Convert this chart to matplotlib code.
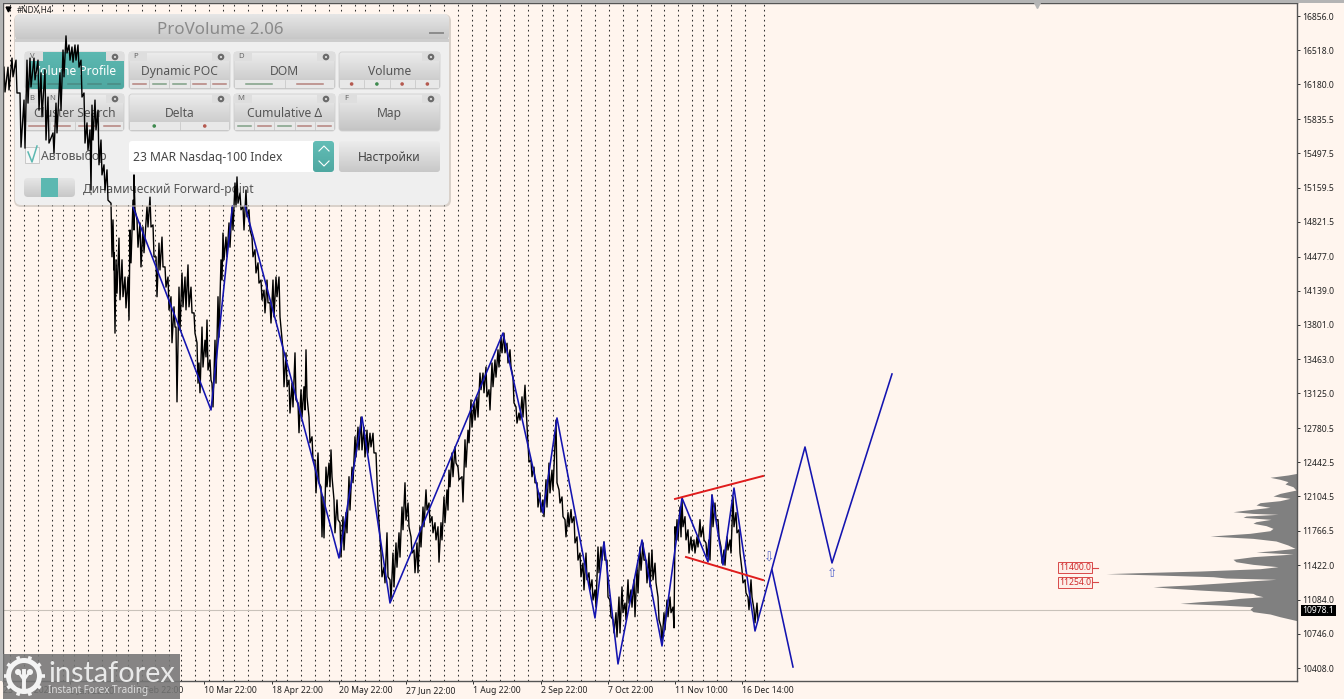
import numpy as np
import matplotlib
matplotlib.use("Agg")
import matplotlib.pyplot as plt
from matplotlib.patches import FancyBboxPatch, Rectangle, Circle, Wedge

W, H = 1344, 699
BG = "#fff5ee"
TEAL = "#5cb8b1"
RED = "#b5817c"
GREEN = "#7f9f85"

# price axis
price_ticks = [16856.5, 16518.0, 16180.0, 15835.5, 15497.5, 15159.5, 14821.5, 14477.0, 14139.0, 13801.0,
               13463.0, 13125.0, 12780.5, 12442.5, 12104.5, 11766.5, 11422.0, 11084.0, 10746.0, 10408.0]
price_labels = ["16856.0", "16518.0", "16180.0", "15835.5", "15497.5", "15159.5", "14821.5", "14477.0",
                "14139.0", "13801.0", "13463.0", "13125.0", "12780.5", "12442.5", "12104.5", "11766.5",
                "11422.0", "11084.0", "10746.0", "10408.0"]

# time axis (x is the bar position on the chart)
time_ticks = [3, 70, 137, 204, 272, 339, 406, 473, 541, 608, 675, 742]
time_labels = ["23 Nov 2021", "5 Jan 22:00", "3 Feb 22:00", "10 Mar 22:00", "18 Apr 22:00", "20 May 22:00",
               "27 Jun 22:00", "1 Aug 22:00", "2 Sep 22:00", "7 Oct 22:00", "11 Nov 10:00", "16 Dec 14:00"]

# period separators
period_x = [10, 24, 38, 52, 63, 74, 88, 102, 116, 128, 142, 155, 169, 181, 195, 209, 223, 234, 248, 262, 276,
            287, 301, 315, 329, 341, 355, 365, 379, 393, 407, 419, 430, 444, 458, 472, 486, 500, 514, 528, 542,
            553, 567, 581, 595, 609, 623, 637, 651, 664, 678, 692, 703, 717, 731, 745, 764]

# price bars
bar_x = [4, 8, 12, 16, 20, 24, 27, 30, 34, 38, 41, 45, 48, 53, 56, 60, 63, 66, 69, 72, 75, 78, 81, 84, 87, 90, 92, 95,
         98, 101, 104, 107, 111, 113, 114, 116, 119, 122, 125, 128, 130, 133, 134, 137, 140, 143, 147, 150, 153, 156,
         159, 162, 165, 168, 171, 174, 176, 179, 182, 185, 188, 191, 194, 197, 199, 202, 205, 207, 210, 212, 215, 218,
         221, 223, 226, 229, 232, 235, 237, 240, 243, 246, 249, 252, 255, 258, 261, 264, 267, 270, 273, 276, 279, 283,
         286, 289, 292, 295, 298, 301, 304, 306, 309, 312, 315, 318, 321, 323, 326, 329, 331, 334, 337, 340, 343, 346,
         349, 352, 355, 358, 361, 364, 367, 370, 373, 376, 378, 381, 384, 387, 390, 393, 396, 399, 402, 405, 408, 411,
         414, 417, 420, 423, 426, 429, 432, 435, 438, 441, 444, 447, 449, 452, 455, 458, 462, 465, 468, 471, 474, 477,
         480, 483, 486, 489, 492, 495, 498, 501, 504, 507, 510, 513, 516, 519, 522, 525, 528, 531, 534, 537, 540, 543,
         546, 549, 552, 556, 559, 562, 565, 568, 571, 574, 577, 580, 583, 586, 589, 592, 595, 598, 601, 604, 607, 610,
         613, 616, 619, 622, 625, 628, 631, 634, 637, 640, 643, 646, 649, 652, 655, 658, 661, 664, 667, 670, 673, 675,
         677, 680, 682, 685, 688, 691, 694, 697, 700, 703, 706, 709, 712, 715, 718, 721, 724, 727, 730, 733, 736, 739,
         742, 745, 748, 751, 754, 757]
bar_high = [16350, 16350, 16440, 16420, 16095, 16025, 16420, 16440, 16440, 16420, 16295, 16325, 16055, 15700, 15995,
            16295, 16520, 16660, 16570, 16550, 16570, 16570, 16420, 16095, 15800, 15730, 15975, 16025, 15925, 15630,
            15385, 15335, 15005, 14840, 14515, 14445, 14660, 14445, 14275, 14275, 14740, 15035, 15285, 14840, 14810,
            14770, 14970, 15065, 14790, 14475, 14610, 14670, 14375, 14275, 14080, 13980, 13780, 14175, 14315, 14275,
            14395, 14175, 13920, 13625, 13425, 13780, 13650, 13850, 13455, 13225, 13650, 14080, 14445, 14710, 14670,
            14810, 14970, 15205, 15265, 15105, 14970, 15135, 14940, 14670, 14545, 14415, 14245, 14145, 14245, 14020,
            14245, 14275, 14275, 13555, 13525, 13255, 13225, 13525, 13030, 13160, 13190, 13555, 12890, 12695, 12465,
            12535, 12200, 12100, 12395, 12435, 12565, 12070, 12070, 11845, 11905, 11945, 12300, 12395, 12695, 12790,
            12890, 12790, 12760, 12730, 12730, 12535, 12000, 11545, 11405, 11745, 11280, 11545, 11645, 11745, 12000,
            12240, 12040, 11705, 11575, 11645, 11805, 12000, 12170, 12040, 11905, 11845, 11805, 11845, 12100, 12170,
            12365, 12535, 12595, 12395, 12300, 12665, 12760, 13060, 13030, 13090, 13325, 13325, 13385, 13160, 13425,
            13455, 13555, 13680, 13720, 13620, 13555, 13285, 12990, 12930, 13090, 13205, 12635, 12465, 12395, 12240,
            12140, 12070, 12270, 12435, 12365, 12860, 12170, 12100, 11875, 11945, 11975, 11905, 11705, 11545, 11445,
            11545, 11350, 11280, 11180, 11605, 11605, 11655, 11475, 11080, 10885, 10955, 11110, 11210, 11050, 11280,
            11180, 11280, 11405, 11605, 11645, 11475, 11545, 11575, 11445, 11110, 10815, 10955, 11080, 11110, 11010,
            11805, 11875, 12000, 12070, 11905, 11775, 11705, 11675, 11705, 11875, 11805, 11645, 11675, 12120, 12040,
            11875, 11605, 11575, 11705, 11675, 12100, 11945, 11775, 11375, 11280, 11110, 11280, 10985, 11050]
bar_low = [16105, 16125, 16255, 16095, 15560, 15550, 15995, 16155, 16225, 15925, 15860, 15630, 15600, 15500, 15700,
           15925, 16255, 16490, 16420, 16400, 16420, 16350, 16055, 15600, 15530, 15135, 15630, 15730, 15385, 15285,
           15135, 15035, 14475, 14345, 13720, 14115, 14050, 14080, 13970, 13850, 14415, 14740, 14940, 14570, 14375,
           14515, 14770, 14770, 14475, 14080, 14345, 14375, 14175, 13950, 13625, 13780, 13040, 13750, 13980, 13950,
           13980, 13920, 13720, 13225, 13130, 13385, 13485, 13355, 13255, 12990, 13225, 13680, 14245, 14445, 14475,
           14570, 14740, 14970, 15005, 14940, 14740, 14870, 14740, 14475, 14315, 14215, 14050, 13920, 14020, 13820,
           13880, 14080, 13880, 13190, 13190, 12930, 12990, 13060, 12735, 12890, 12960, 13090, 12635, 12465, 12140,
           12240, 11705, 11695, 12200, 12200, 12300, 11745, 11875, 11505, 11575, 11745, 11970, 12240, 12495, 12565,
           12565, 12495, 12535, 12595, 12535, 12270, 11845, 11310, 11250, 11310, 11080, 11210, 11405, 11505, 11775,
           11870, 11805, 11545, 11350, 11350, 11605, 11805, 11970, 11845, 11745, 11675, 11455, 11675, 11845, 11970,
           12200, 12300, 12435, 12270, 12050, 12395, 12635, 12790, 12860, 12890, 13160, 13130, 13090, 12960, 13190,
           13285, 13385, 13525, 13525, 13425, 13385, 13030, 12830, 12860, 12890, 12990, 12445, 12300, 12240, 12000,
           11950, 11905, 12000, 12140, 12170, 12240, 12040, 11905, 11705, 11805, 11845, 11645, 11475, 11310, 11180,
           11280, 11180, 11080, 11010, 11350, 11475, 11475, 11110, 10915, 10755, 10715, 10755, 10955, 10885, 11050,
           11010, 10915, 11150, 11375, 11475, 11250, 11210, 11280, 11250, 10885, 10665, 10785, 10915, 10955, 10805,
           11675, 11675, 11705, 11805, 11675, 11545, 11575, 11545, 11605, 11705, 11675, 11505, 11475, 11805, 11875,
           11705, 11445, 11425, 11575, 11545, 11805, 11745, 11545, 11250, 11150, 10985, 11110, 10855, 10885]

# blue wave lines
wave_x = [133, 211, 236, 339, 362, 390, 503, 543, 557, 595, 604, 618, 642, 662, 682, 708, 712, 723, 734, 755, 805, 832, 892]
wave_price = [14968, 12960, 15313, 11496, 12891, 11051, 13721, 11941, 12881, 10903, 11654, 10448, 11674, 10626, 12090,
              11457, 12119, 11427, 12188, 10774, 12594, 11447, 13316]
branch_x = [772, 793]
branch_price = [11377, 10418]

# red channel
channel_top_x = [675, 763]
channel_top_price = [12080, 12307]
channel_bottom_x = [686, 763]
channel_bottom_price = [11506, 11278]

# volume profile
profile_price = [12333, 12317, 12294, 12274, 12251, 12228, 12201, 12168, 12135, 12109, 12086, 12063, 12043, 12020, 11997,
                 11970, 11954, 11937, 11928, 11911, 11898, 11878, 11855, 11839, 11816, 11789, 11766, 11740, 11713, 11690,
                 11664, 11624, 11591, 11568, 11555, 11535, 11509, 11483, 11459, 11433, 11410, 11390, 11367, 11351, 11341,
                 11328, 11311, 11298, 11285, 11271, 11252, 11229, 11212, 11196, 11179, 11163, 11146, 11130, 11113, 11097,
                 11080, 11064, 11047, 11031, 11014, 10991, 10965, 10942, 10915, 10876]
profile_volume = [0, 9, 27, 17, 9, 12, 4, 1, 17, 24, 7, 17, 37, 41, 27, 51, 64, 44, 19, 51, 54, 26, 41, 44, 31, 24, 27, 47,
                  87, 44, 21, 9, 2, 24, 41, 4, 44, 64, 61, 44, 19, 37, 97, 157, 191, 141, 84, 71, 21, 44, 71, 107, 144,
                  124, 97, 67, 44, 41, 34, 57, 71, 97, 117, 77, 44, 47, 44, 27, 17, 0]

level_prices = [11400.0, 11254.0]
last_price = 10978.1


def px_to_price(y):
    # 16856.5 sits on pixel row 16 and 10408 on row 668
    return 16856.5 - (y - 16) * (16856.5 - 10408.0) / 652


def bars_path():
    xs, ys = [], []
    for x, hi, lo in zip(bar_x, bar_high, bar_low):
        xs += [x, x + 1]
        ys += [hi, lo]
    return xs, ys


def gradient(ax, x0, y0, x1, y1, c0, c1, radius=3, z=3):
    box = FancyBboxPatch((x0 + radius, y0 + radius), x1 - x0 - 2 * radius, y1 - y0 - 2 * radius,
                         boxstyle="round,pad=%f,rounding_size=%f" % (radius, radius),
                         fc="none", ec="none", transform=ax.transData, zorder=z)
    ax.add_patch(box)
    rgb0 = np.array(matplotlib.colors.to_rgb(c0))
    rgb1 = np.array(matplotlib.colors.to_rgb(c1))
    img = np.linspace(0, 1, 24)[:, None, None] * (rgb1 - rgb0) + rgb0
    im = ax.imshow(img, extent=(x0, x1, y1, y0), aspect="auto", zorder=z, interpolation="bilinear")
    im.set_clip_path(box)


def button(ax, x0, y0, x1, y1, label, key, marks, active=False, key2=None):
    c0, c1 = ("#ececec", "#c4c4c4")
    gradient(ax, x0, y0, x1, y1, c0, c1)
    ax.add_patch(FancyBboxPatch((x0, y0), x1 - x0, y1 - y0, boxstyle="round,pad=0,rounding_size=3",
                                fc="none", ec="#cfcfcf", lw=0.6, zorder=3.05))
    if active:
        gradient(ax, x0 + 4, y0, x1, y1, TEAL, "#4fa8a1", z=3.1)
    # key tab and gear
    if key:
        ax.add_patch(Rectangle((x0, y0), 18, 9, fc="#dedede", ec="none", zorder=3.2))
        ax.text(x0 + 7, y0 + 5, key, fontsize=5.5, color="#666666", family="Noto Sans", ha="center", va="center", zorder=4)
    if key2:
        ax.add_patch(Rectangle((x0 + 19, y0), 14, 9, fc="#dedede", ec="none", zorder=3.2))
        ax.text(x0 + 27, y0 + 5, key2, fontsize=5.5, color="#666666", family="Noto Sans", ha="center", va="center", zorder=4)
    ax.add_patch(Rectangle((x1 - 18, y0), 18, 9, fc="#dedede", ec="none", zorder=3.2))
    ax.add_patch(Circle((x1 - 9, y0 + 5), 3.3, fc="#6b6b6b", ec="none", zorder=4))
    ax.add_patch(Circle((x1 - 9, y0 + 5), 1.1, fc="#dedede", ec="none", zorder=4.1))
    text_color = "white" if active else "#555555"
    ax.text((x0 + x1) / 2, y0 + 19.5, label, fontsize=8.7, color=text_color, family="Noto Sans",
            ha="center", va="center", zorder=4)
    # bottom strip with state marks
    if marks:
        if not active:
            ax.add_patch(Rectangle((x0 + 1, y0 + 28), x1 - x0 - 2, 8, fc="#e8e8e8", ec="none", zorder=3.2))
        n = len(marks)
        step = (x1 - x0) / n
        for i, (kind, col) in enumerate(marks):
            cx = x0 + step * (i + 0.5)
            ym = y0 + 32
            if kind == "dash":
                half = min(step * 0.32, 13)
                ax.plot([cx - half, cx + half], [ym, ym], color=col, lw=1.1, zorder=3.5)
            else:
                ax.add_patch(Circle((cx, ym), 1.8, fc=col, ec="none", zorder=3.5))
            if i and not active:
                ax.plot([x0 + step * i] * 2, [y0 + 28, y0 + 36], color="#c4c4c4", lw=0.5, zorder=3.4)


fig = plt.figure(figsize=(W / 100, H / 100), dpi=100, facecolor=BG)

# main chart
left, right, top, bottom = 3, 1297, 3, 681
ax = fig.add_axes([left / W, 1 - bottom / H, (right - left) / W, (bottom - top) / H], facecolor=BG, zorder=1)
ax.set_xlim(left, right)
ax.set_ylim(px_to_price(bottom), px_to_price(top))
for name, spine in ax.spines.items():
    spine.set_color("#555555")
    spine.set_linewidth(1)
ax.yaxis.tick_right()
ax.set_yticks(price_ticks)
ax.set_yticklabels(price_labels, fontsize=6.2, family="Noto Sans", color="#222222")
ax.set_xticks(time_ticks)
ax.set_xticklabels(time_labels, fontsize=6.2, family="Noto Sans", color="#222222", ha="left")
ax.tick_params(axis="both", length=2.5, width=0.7, color="#333333", pad=1)

ax.vlines(period_x, px_to_price(bottom), px_to_price(top), colors="#333333", linewidth=0.75, linestyles=(0, (1.6, 3.2)), zorder=1)
ax.axhline(last_price, color="#c9c2ba", lw=0.8, zorder=1.5)

bx, by = bars_path()
ax.plot(bx, by, color="black", lw=1.0, zorder=2)
ax.plot(wave_x, wave_price, color="#1414b0", lw=1.15, zorder=3)
ax.plot(branch_x, branch_price, color="#1414b0", lw=1.15, zorder=3)
ax.plot(channel_top_x, channel_top_price, color="#e01c1c", lw=1.4, zorder=3.2)
ax.plot(channel_bottom_x, channel_bottom_price, color="#e01c1c", lw=1.4, zorder=3.2)

ax.fill_betweenx(profile_price, right - np.array(profile_volume), right, color="#808080", lw=0, zorder=2.5)

ax.text(769, 11495, "\u21e9", color="#5566cc", fontsize=9, ha="center", va="center", family="DejaVu Sans", zorder=4)
ax.text(832, 11340, "\u21e7", color="#5566cc", fontsize=9, ha="center", va="center", family="DejaVu Sans", zorder=4)

# level tags
for level in level_prices:
    ax.text(1075, level, "%.1f" % level, color="#d02a2a", fontsize=6.2, family="Noto Sans", ha="center", va="center",
            zorder=4, bbox=dict(boxstyle="square,pad=0.12", fc="#fdeee8", ec="#d84848", lw=0.7))
    ax.plot([1092, 1098], [level, level], color="#d84848", lw=0.8, zorder=4)

ax.text(1318.5, last_price, "10978.1", color="white", fontsize=6.2, family="Noto Sans", ha="center", va="center",
        clip_on=False, zorder=6, bbox=dict(boxstyle="square,pad=0.14", fc="black", ec="none"))
ax.text(17, px_to_price(11), "#NDX,H4", fontsize=6, family="Noto Sans", color="#222222", va="center", zorder=4)
ax.plot([8], [px_to_price(9)], marker="v", ms=3.5, color="black", zorder=4)
ax.plot([1037], [px_to_price(5)], marker="v", ms=4, color="#b5b5b5", zorder=4)

# overlay in figure pixels
ov = fig.add_axes([0, 0, 1, 1], zorder=2)
ov.axis("off")
ov.patch.set_alpha(0)

ov.add_patch(Rectangle((0, 0), W, 2.5, fc="#b4b4b4", ec="none"))
ov.add_patch(Rectangle((0, 3), 2.5, 678, fc="#b4b4b4", ec="none"))

# panel
ov.add_patch(FancyBboxPatch((14, 14), 437, 193, boxstyle="round,pad=0,rounding_size=7", fc="#bbb5ae", ec="none", alpha=0.55, zorder=2))
ov.add_patch(FancyBboxPatch((15, 14), 434, 191, boxstyle="round,pad=0,rounding_size=6", fc="#efefef", ec="none", zorder=2.1))
gradient(ov, 15, 14, 449, 41, "#e6e6e6", "#c5c5c5", radius=6, z=2.2)
ov.add_patch(Rectangle((15, 39), 434, 3, fc="#cdcdcd", ec="none", zorder=2.3))
ov.plot([430, 443], [33, 33], color="#8c8c8c", lw=1.4, zorder=3)
ov.text(220, 30, "ProVolume 2.06", fontsize=12.2, color="#8a8a8a", family="Noto Sans", ha="center", va="center", zorder=3)

dash = "dash"
dot = "dot"
button(ov, 25, 52, 124, 89, "Volume Profile", "V", [(dash, "#4a8a83")] * 5, active=True)
button(ov, 129, 52, 230, 89, "Dynamic POC", "P", [(dash, RED), (dash, GREEN), (dash, GREEN), (dash, RED), (dash, RED)])
button(ov, 234, 52, 335, 89, "DOM", "D", [(dash, GREEN), (dash, RED)])
button(ov, 339, 52, 440, 89, "Volume", "", [(dot, "#b55a50"), (dot, "#3f8a4f"), (dot, "#b55a50"), (dot, "#b55a50")])
button(ov, 25, 94, 124, 131, "Cluster Search", "B", [(dash, RED)] * 4, key2="N")
button(ov, 129, 94, 230, 131, "Delta", "", [(dot, "#3f8a4f"), (dot, "#b55a50")])
button(ov, 234, 94, 335, 131, "Cumulative \u0394", "M", [(dash, GREEN), (dash, RED), (dash, GREEN), (dash, RED), (dash, RED)])
button(ov, 339, 94, 440, 131, "Map", "F", [])

# checkbox and combo
ov.add_patch(Rectangle((25, 147), 14, 16, fc="#f6f6f6", ec="#c8c8c8", lw=0.7, zorder=3))
ov.plot([28, 32, 37], [152, 162, 146], color=TEAL, lw=1.1, zorder=3.5)
ov.text(41, 156, "\u0410\u0432\u0442\u043e\u0432\u044b\u0431\u043e\u0440", fontsize=8.8, color="#555555", family="Noto Sans", va="center", zorder=3)
ov.add_patch(FancyBboxPatch((129, 141), 205, 31, boxstyle="round,pad=0,rounding_size=3", fc="white", ec="none", zorder=3))
gradient(ov, 313, 141, 334, 172, "#62bdb6", "#4fa8a1", z=3.1)
ov.plot([319, 324, 329], [151, 146, 151], color="white", lw=0.8, zorder=3.5)
ov.plot([319, 324, 329], [161, 166, 161], color="white", lw=0.8, zorder=3.5)
ov.text(133, 158, "23 MAR Nasdaq-100 Index", fontsize=8.7, color="#444444", family="Noto Sans", va="center", zorder=3.5)
gradient(ov, 339, 141, 440, 172, "#ececec", "#c8c8c8", z=3)
ov.text(389.5, 158, "\u041d\u0430\u0441\u0442\u0440\u043e\u0439\u043a\u0438", fontsize=8.6, color="#444444", family="Noto Sans", ha="center", va="center", zorder=3.5)
gradient(ov, 24, 178, 75, 197, "#e6e6e6", "#c8c8c8", radius=4, z=3)
ov.add_patch(Rectangle((41, 178), 17, 19, fc=TEAL, ec="none", zorder=3.2))
ov.text(83, 189, "\u0414\u0438\u043d\u0430\u043c\u0438\u0447\u0435\u0441\u043a\u0438\u0439 Forward-point", fontsize=8.6, color="#555555", family="Noto Sans", va="center", zorder=3)

ov.set_xlim(0, W)
ov.set_ylim(H, 0)

# price bars stay visible on top of the panel, blue lines do not
pax = fig.add_axes([14 / W, 1 - 205 / H, 436 / W, 191 / H], zorder=3)
pax.axis("off")
pax.patch.set_alpha(0)
pax.set_xlim(14, 450)
pax.set_ylim(px_to_price(205), px_to_price(14))
pax.plot(bx, by, color="black", lw=1.0)

# logo
logo = fig.add_axes([0, 0, 1, 1], zorder=4)
logo.axis("off")
logo.patch.set_alpha(0)
logo.set_xlim(0, W)
logo.set_ylim(H, 0)
logo.add_patch(Rectangle((3, 654), 177, 45, fc="#757575", ec="none", alpha=0.88))
logo.add_patch(Wedge((24, 676), 18, 0, 360, width=5, fc="#f4f4f4", ec="none"))
for a in np.arange(0, 360, 36):
    r = np.deg2rad(a)
    logo.plot([24 + 15 * np.cos(r), 24 + 20.5 * np.cos(r)],
              [676 + 15 * np.sin(r), 676 + 20.5 * np.sin(r)], color="#f4f4f4", lw=2.6, solid_capstyle="butt")
logo.add_patch(Circle((18, 672), 3, fc="#f4f4f4", ec="none"))
logo.add_patch(Circle((30, 672), 3, fc="#f4f4f4", ec="none"))
logo.plot([24, 24], [671, 690], color="#f4f4f4", lw=2.8)
logo.plot([19, 24, 29], [673, 680, 673], color="#f4f4f4", lw=1.8)
logo.text(48, 674, "instaforex", fontsize=20.8, color="#e9e9e9", family="Lato", va="center")
logo.text(48, 690, "Instant Forex Trading", fontsize=7.1, color="#dddddd", family="Noto Sans", va="center")

fig.savefig("out.png", dpi=100, facecolor=BG)
